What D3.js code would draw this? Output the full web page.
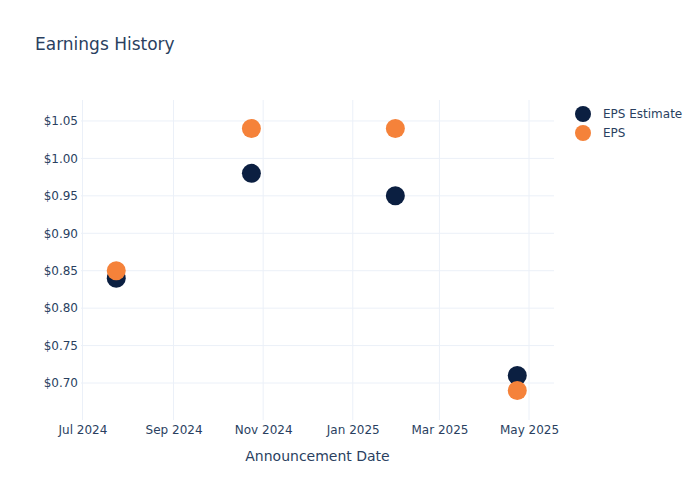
<!DOCTYPE html>
<html>
<head>
<meta charset="utf-8">
<script src="https://cdn.jsdelivr.net/npm/d3@7"></script>
<style>
  body { margin: 0; background: #fff; }
  svg { font-family: "DejaVu Sans", sans-serif; }
</style>
</head>
<body>
<svg id="chart" width="700" height="500"></svg>
<script>
// data
var dates = ["2024-07-24", "2024-10-24", "2025-01-30", "2025-04-23"];
var epsEstimate = [0.84, 0.98, 0.95, 0.71];
var epsActual = [0.85, 1.04, 1.04, 0.69];
var yTicks = [0.70, 0.75, 0.80, 0.85, 0.90, 0.95, 1.00, 1.05];
var xTicks = ["2024-07-01", "2024-09-01", "2024-11-01", "2025-01-01", "2025-03-01", "2025-05-01"];
var seriesNames = ["EPS Estimate", "EPS"];
var seriesColors = ["#0b1f41", "#f5823a"];

var margin = {top: 100, right: 146, bottom: 80, left: 81};
var width = 700 - margin.left - margin.right;
var height = 500 - margin.top - margin.bottom;

var parse = d3.utcParse("%Y-%m-%d");

var svg = d3.select("#chart");

// title
svg.append("text")
    .attr("x", 35)
    .attr("y", 50)
    .attr("font-size", 17)
    .attr("fill", "#2a3f5f")
    .text("Earnings History");

var g = svg.append("g")
    .attr("transform", "translate(" + margin.left + "," + margin.top + ")");

// scales
var x = d3.scaleUtc()
    .domain([parse("2024-06-30"), parse("2025-05-18")])
    .range([0, width]);

var y = d3.scaleLinear()
    .domain([0.6506, 1.078])
    .range([height, 0]);

// grid lines
g.append("g")
  .selectAll("line")
  .data(yTicks)
  .enter().append("line")
    .attr("x1", 0)
    .attr("x2", width)
    .attr("y1", function(d) { return y(d); })
    .attr("y2", function(d) { return y(d); })
    .attr("stroke", "#ebf0f8")
    .attr("stroke-width", 1);

g.append("g")
  .selectAll("line")
  .data(xTicks)
  .enter().append("line")
    .attr("x1", function(d) { return x(parse(d)); })
    .attr("x2", function(d) { return x(parse(d)); })
    .attr("y1", 0)
    .attr("y2", height)
    .attr("stroke", "#ebf0f8")
    .attr("stroke-width", 1);

// y axis
var yAxis = g.append("g")
    .call(d3.axisLeft(y)
      .tickValues(yTicks)
      .tickSize(0)
      .tickPadding(3)
      .tickFormat(function(d) { return "$" + d.toFixed(2); }));
yAxis.select(".domain").remove();
yAxis.selectAll("text")
    .attr("font-size", 12)
    .attr("font-family", "DejaVu Sans, sans-serif")
    .attr("fill", "#2a3f5f");

// x axis
var xAxis = g.append("g")
    .attr("transform", "translate(0," + height + ")")
    .call(d3.axisBottom(x)
      .tickValues(xTicks.map(function(d) { return parse(d); }))
      .tickSize(0)
      .tickPadding(5.5)
      .tickFormat(d3.utcFormat("%b %Y")));
xAxis.select(".domain").remove();
xAxis.selectAll("text")
    .attr("font-size", 12)
    .attr("font-family", "DejaVu Sans, sans-serif")
    .attr("fill", "#2a3f5f");

// x axis title
svg.append("text")
    .attr("x", margin.left + width / 2)
    .attr("y", 461)
    .attr("text-anchor", "middle")
    .attr("font-size", 14)
    .attr("fill", "#2a3f5f")
    .text("Announcement Date");

// points, estimate first so EPS sits on top
[epsEstimate, epsActual].forEach(function(values, s) {
  g.append("g")
    .selectAll("circle")
    .data(values)
    .enter().append("circle")
      .attr("cx", function(d, i) { return x(parse(dates[i])); })
      .attr("cy", function(d) { return y(d); })
      .attr("r", 9.5)
      .attr("fill", seriesColors[s]);
});

// legend
var legend = svg.append("g")
  .selectAll("g")
  .data(seriesNames)
  .enter().append("g")
    .attr("transform", function(d, i) { return "translate(583," + (114 + i * 19) + ")"; });

legend.append("circle")
    .attr("r", 8)
    .attr("fill", function(d, i) { return seriesColors[i]; });

legend.append("text")
    .attr("x", 20)
    .attr("dy", "0.35em")
    .attr("font-size", 12)
    .attr("fill", "#2a3f5f")
    .text(function(d) { return d; });
</script>
</body>
</html>
